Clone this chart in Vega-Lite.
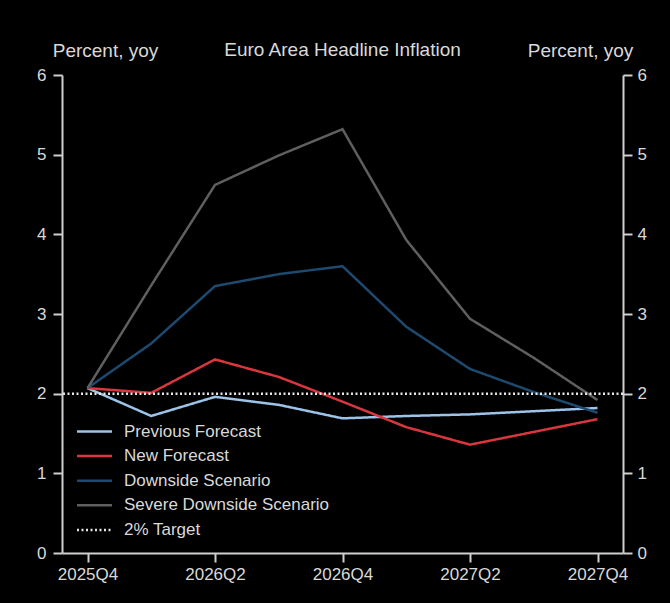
{
  "$schema": "https://vega.github.io/schema/vega-lite/v6.json",
  "autosize": {"type": "none"},
  "width": 561,
  "height": 478,
  "padding": {"left": 62, "top": 75, "right": 47, "bottom": 50},
  "background": "#000000",
  "config": {
    "view": {"stroke": null},
    "font": "Liberation Sans",
    "axis": {
      "domainColor": "#cfcfcf",
      "domainWidth": 2,
      "tickColor": "#cfcfcf",
      "tickWidth": 2,
      "tickSize": 9,
      "labelColor": "#d9d9d9",
      "labelFontSize": 17,
      "titleColor": "#d9d9d9",
      "titleFontSize": 19,
      "titleFontWeight": "normal",
      "grid": false
    }
  },
  "title": {
    "text": "Euro Area Headline Inflation",
    "fontSize": 19,
    "fontWeight": "normal",
    "color": "#d9d9d9",
    "anchor": "middle",
    "frame": "group",
    "baseline": "alphabetic",
    "offset": 0,
    "dy": 34
  },
  "datasets": {
    "series": [
      {"quarter": "2025Q4", "series": "Previous Forecast", "value": 2.07},
      {"quarter": "2026Q1", "series": "Previous Forecast", "value": 1.72},
      {"quarter": "2026Q2", "series": "Previous Forecast", "value": 1.96},
      {"quarter": "2026Q3", "series": "Previous Forecast", "value": 1.86},
      {"quarter": "2026Q4", "series": "Previous Forecast", "value": 1.69},
      {"quarter": "2027Q1", "series": "Previous Forecast", "value": 1.72},
      {"quarter": "2027Q2", "series": "Previous Forecast", "value": 1.74},
      {"quarter": "2027Q3", "series": "Previous Forecast", "value": 1.78},
      {"quarter": "2027Q4", "series": "Previous Forecast", "value": 1.82},
      {"quarter": "2025Q4", "series": "New Forecast", "value": 2.07},
      {"quarter": "2026Q1", "series": "New Forecast", "value": 2.01},
      {"quarter": "2026Q2", "series": "New Forecast", "value": 2.43},
      {"quarter": "2026Q3", "series": "New Forecast", "value": 2.21},
      {"quarter": "2026Q4", "series": "New Forecast", "value": 1.9},
      {"quarter": "2027Q1", "series": "New Forecast", "value": 1.58},
      {"quarter": "2027Q2", "series": "New Forecast", "value": 1.36},
      {"quarter": "2027Q3", "series": "New Forecast", "value": 1.52},
      {"quarter": "2027Q4", "series": "New Forecast", "value": 1.68},
      {"quarter": "2025Q4", "series": "Downside Scenario", "value": 2.07},
      {"quarter": "2026Q1", "series": "Downside Scenario", "value": 2.63},
      {"quarter": "2026Q2", "series": "Downside Scenario", "value": 3.35},
      {"quarter": "2026Q3", "series": "Downside Scenario", "value": 3.5},
      {"quarter": "2026Q4", "series": "Downside Scenario", "value": 3.6},
      {"quarter": "2027Q1", "series": "Downside Scenario", "value": 2.84},
      {"quarter": "2027Q2", "series": "Downside Scenario", "value": 2.31},
      {"quarter": "2027Q3", "series": "Downside Scenario", "value": 2.02},
      {"quarter": "2027Q4", "series": "Downside Scenario", "value": 1.76},
      {"quarter": "2025Q4", "series": "Severe Downside Scenario", "value": 2.07},
      {"quarter": "2026Q1", "series": "Severe Downside Scenario", "value": 3.36},
      {"quarter": "2026Q2", "series": "Severe Downside Scenario", "value": 4.62},
      {"quarter": "2026Q3", "series": "Severe Downside Scenario", "value": 4.99},
      {"quarter": "2026Q4", "series": "Severe Downside Scenario", "value": 5.32},
      {"quarter": "2027Q1", "series": "Severe Downside Scenario", "value": 3.93},
      {"quarter": "2027Q2", "series": "Severe Downside Scenario", "value": 2.94},
      {"quarter": "2027Q3", "series": "Severe Downside Scenario", "value": 2.45},
      {"quarter": "2027Q4", "series": "Severe Downside Scenario", "value": 1.92}
    ],
    "target": [
      {"series": "2% Target", "value": 2}
    ]
  },
  "encoding": {
    "color": {
      "field": "series",
      "type": "nominal",
      "scale": {
        "domain": ["Previous Forecast", "New Forecast", "Downside Scenario", "Severe Downside Scenario", "2% Target"],
        "range": ["#9cc3e8", "#d9363e", "#1d4a6e", "#5f5f5f", "#e6e6e6"]
      },
      "legend": {
        "title": null,
        "orient": "none",
        "legendX": 21,
        "legendY": 345,
        "padding": 0,
        "labelColor": "#d9d9d9",
        "labelFontSize": 17,
        "labelOffset": 18,
        "labelLimit": 400,
        "symbolType": "M-1.75,0H1.75",
        "symbolSize": 400,
        "symbolStrokeWidth": 2.5,
        "rowPadding": 4.6
      }
    },
    "strokeDash": {
      "field": "series",
      "type": "nominal",
      "scale": {
        "domain": ["Previous Forecast", "New Forecast", "Downside Scenario", "Severe Downside Scenario", "2% Target"],
        "range": [[1, 0], [1, 0], [1, 0], [1, 0], [2, 2.5]]
      },
      "legend": {
        "title": null,
        "orient": "none",
        "legendX": 21,
        "legendY": 345,
        "padding": 0,
        "labelColor": "#d9d9d9",
        "labelFontSize": 17,
        "labelOffset": 18,
        "labelLimit": 400,
        "symbolType": "M-1.75,0H1.75",
        "symbolSize": 400,
        "symbolStrokeWidth": 2.5,
        "rowPadding": 4.6
      }
    }
  },
  "layer": [
    {
      "data": {"name": "series"},
      "mark": {"type": "line", "strokeWidth": 2.5},
      "encoding": {
        "x": {
          "field": "quarter",
          "type": "ordinal",
          "scale": {"type": "point", "padding": 0.4},
          "axis": {
            "title": null,
            "values": ["2025Q4", "2026Q2", "2026Q4", "2027Q2", "2027Q4"],
            "labelAngle": 0,
            "labelPadding": 4
          }
        },
        "y": {
          "field": "value",
          "type": "quantitative",
          "scale": {"domain": [0, 6], "nice": false},
          "axis": {
            "orient": "left",
            "values": [0, 1, 2, 3, 4, 5, 6],
            "labelPadding": 7,
            "title": "Percent, yoy",
            "titleAngle": 0,
            "titleAlign": "center",
            "titleBaseline": "alphabetic",
            "titleX": 43,
            "titleY": -19
          }
        }
      }
    },
    {
      "data": {"name": "series"},
      "mark": {"type": "line", "strokeWidth": 0, "opacity": 0},
      "encoding": {
        "x": {"field": "quarter", "type": "ordinal"},
        "y": {
          "field": "value",
          "type": "quantitative",
          "axis": {
            "orient": "right",
            "values": [0, 1, 2, 3, 4, 5, 6],
            "labelPadding": 5,
            "title": "Percent, yoy",
            "titleAngle": 0,
            "titleAlign": "center",
            "titleBaseline": "alphabetic",
            "titleX": -43,
            "titleY": -19
          }
        }
      }
    },
    {
      "data": {"name": "target"},
      "mark": {"type": "rule", "strokeWidth": 2.5},
      "encoding": {
        "y": {"field": "value", "type": "quantitative", "axis": null}
      }
    }
  ],
  "resolve": {"axis": {"y": "independent"}}
}
